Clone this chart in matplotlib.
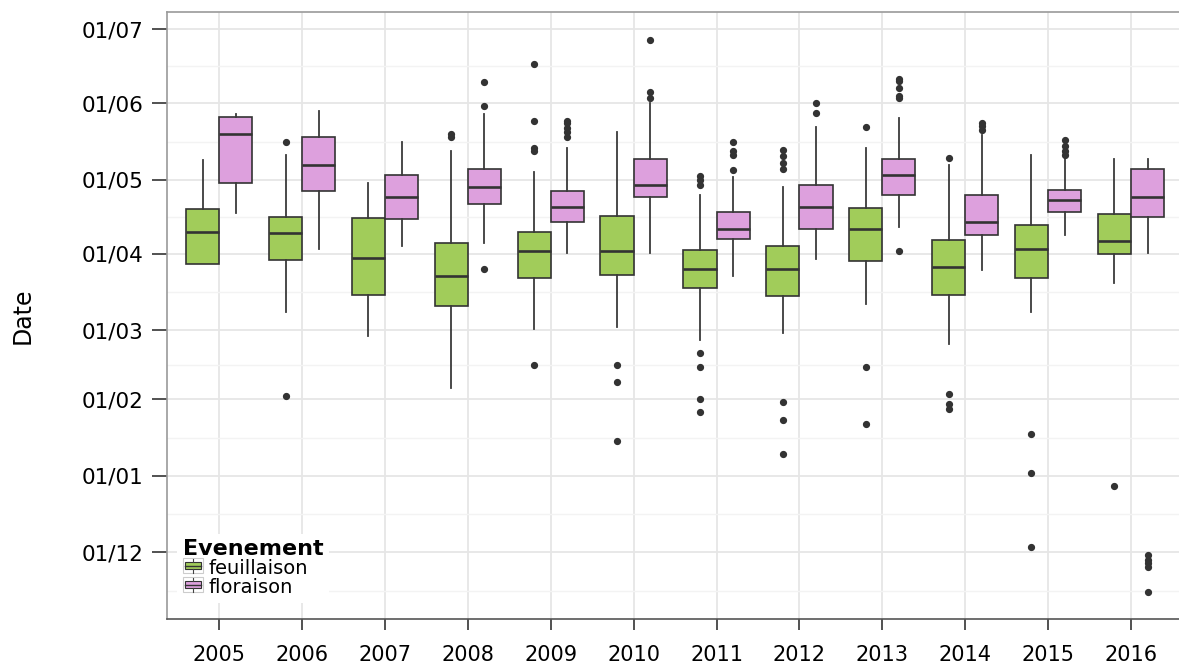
import numpy as np
import matplotlib
matplotlib.use('Agg')
import matplotlib.pyplot as plt
from matplotlib.patches import Rectangle, Patch
from matplotlib.lines import Line2D
from matplotlib.legend_handler import HandlerBase

plt.rcParams['font.family'] = ['DejaVu Sans']

years = [2005, 2006, 2007, 2008, 2009, 2010, 2011, 2012, 2013, 2014, 2015, 2016]

# dates as days from 1 January (negative = previous December)
tick_days = [-31, 0, 31, 59, 90, 120, 151, 181]
tick_labels = ['01/12', '01/01', '01/02', '01/03', '01/04', '01/05', '01/06', '01/07']

# feuillaison
feuil_hi = [128, 130, 118.5, 131.5, 123, 139.5, 114, 117, 133, 126, 130, 128.5]
feuil_q3 = [108, 105, 104.5, 94.5, 99, 105.5, 91.5, 93, 108.5, 95.5, 101.5, 106]
feuil_med = [99, 98.5, 88.5, 81, 91, 91, 84, 84, 100, 84.5, 92, 95]
feuil_q1 = [86, 87.5, 73.5, 69, 80, 81.5, 76, 73, 87, 73.5, 80, 90]
feuil_lo = [86, 66.5, 56.5, 35.5, 59.5, 60.5, 55, 58, 69.5, 53.5, 66.5, 78]
feuil_out = [[], [135.5, 32.5], [], [138.5, 137.5],
             [167, 144, 133, 131.5, 45], [45, 38, 14],
             [121.5, 120, 118, 50, 44, 31, 26],
             [132, 129.5, 127, 124.5, 30, 22.5, 9],
             [141.5, 44, 21], [129, 33, 29, 27], [17, 1, -29], [-4]]

# floraison
flor_hi = [146.5, 148, 135.5, 146.5, 133, 151, 121, 141.5, 145, 138, 129, 128.5]
flor_q3 = [145.5, 137.5, 122, 124.5, 115.5, 128.5, 107, 118, 128.5, 114, 116, 124.5]
flor_med = [138.5, 126, 113, 117, 109, 118, 100, 109, 122, 103, 112, 113]
flor_q1 = [118.5, 115.5, 104, 110, 103, 113, 96, 100, 114, 97.5, 107, 105]
flor_lo = [106.5, 92, 93, 94.5, 90.5, 90.5, 81, 88, 101, 83.5, 97.5, 90.5]
flor_out = [[], [], [], [159.5, 150, 84],
            [144, 143, 141, 139.5, 137.5], [176.5, 155.5, 153],
            [135.5, 131.5, 130, 124], [151, 147],
            [161, 160, 157, 154, 153, 91], [143, 142, 140],
            [136, 133.5, 131.5, 130], [-32, -34, -35.5, -37, -47]]

col_feuil = '#A1CC5A'
col_flor = '#DDA0DD'
dark = '#333333'


def make_stats(lo, q1, med, q3, hi, out):
    return [dict(whislo=lo[i], q1=q1[i], med=med[i], q3=q3[i], whishi=hi[i],
                 fliers=np.array(out[i])) for i in range(len(med))]


fig = plt.figure(figsize=(11.79, 6.66), dpi=100)
ax = fig.add_axes([167 / 1179, 47 / 666, 1012 / 1179, 607 / 666])

x = np.arange(len(years))
common = dict(widths=0.4, patch_artist=True, showcaps=False,
              medianprops=dict(color=dark, linewidth=1.9),
              whiskerprops=dict(color='#3A3A3A', linewidth=1.3),
              flierprops=dict(marker='o', markersize=4.2, markerfacecolor=dark,
                              markeredgecolor=dark, linestyle='none'))

ax.bxp(make_stats(feuil_lo, feuil_q1, feuil_med, feuil_q3, feuil_hi, feuil_out),
       positions=x - 0.2, boxprops=dict(facecolor=col_feuil, edgecolor=dark, linewidth=1.2),
       **common)
ax.bxp(make_stats(flor_lo, flor_q1, flor_med, flor_q3, flor_hi, flor_out),
       positions=x + 0.2, boxprops=dict(facecolor=col_flor, edgecolor=dark, linewidth=1.2),
       **common)

ax.set_xlim(-0.63, 11.58)
ax.set_ylim(-58, 188)

ax.set_xticks(x)
ax.set_xticklabels([str(y) for y in years])
ax.set_yticks(tick_days)
ax.set_yticklabels(tick_labels)
minor = [(a + b) / 2 for a, b in zip(tick_days[:-1], tick_days[1:])]
minor.append(tick_days[0] - (tick_days[1] - tick_days[0]) / 2)
ax.set_yticks(minor, minor=True)

ax.grid(True, which='major', color='#E6E6E6', linewidth=1.3)
ax.grid(True, which='minor', axis='y', color='#F3F3F3', linewidth=1.0)
ax.set_axisbelow(True)

ax.tick_params(axis='y', which='major', length=11, width=1.2, color=dark,
               labelsize=15.5, pad=6, labelcolor='black')
ax.tick_params(axis='x', which='major', length=8, width=1.2, color=dark,
               labelsize=15, pad=11, labelcolor='black')
ax.tick_params(which='minor', length=0)

for s in ['left', 'top']:
    ax.spines[s].set_color('#9A9A9A')
    ax.spines[s].set_linewidth(1.2)
ax.spines['bottom'].set_color('#555555')
ax.spines['bottom'].set_linewidth(1.2)
ax.spines['right'].set_visible(False)

ax.set_ylabel('Date', fontsize=17)
ax.yaxis.set_label_coords(-0.131, 0.5)


class BoxKey(HandlerBase):
    def create_artists(self, legend, orig, xd, yd, w, h, fontsize, trans):
        fc = orig.get_facecolor()
        frame = Rectangle((xd, yd), w, h, facecolor='white', edgecolor='#CCCCCC',
                          linewidth=0.8, transform=trans)
        box = Rectangle((xd + 0.1 * w, yd + 0.25 * h), 0.8 * w, 0.5 * h,
                        facecolor=fc, edgecolor=dark, linewidth=0.8, transform=trans)
        med = Line2D([xd + 0.1 * w, xd + 0.9 * w], [yd + 0.5 * h] * 2,
                     color=dark, linewidth=1.0, transform=trans)
        w1 = Line2D([xd + 0.5 * w] * 2, [yd + 0.05 * h, yd + 0.25 * h],
                    color='#444444', linewidth=0.8, transform=trans)
        w2 = Line2D([xd + 0.5 * w] * 2, [yd + 0.75 * h, yd + 0.95 * h],
                    color='#444444', linewidth=0.8, transform=trans)
        return [frame, box, med, w1, w2]


handles = [Patch(facecolor=col_feuil), Patch(facecolor=col_flor)]
leg = ax.legend(handles, ['feuillaison', 'floraison'], title='Evenement',
                loc='lower left', bbox_to_anchor=(0.0, 0.01),
                handler_map={Patch: BoxKey()}, handlelength=1.05, handleheight=0.85,
                handletextpad=0.3, labelspacing=0.0, borderpad=0.3,
                fontsize=14, title_fontproperties={'size': 16, 'weight': 'bold'},
                alignment='left', frameon=True, fancybox=False, framealpha=1)
leg.get_frame().set_edgecolor('none')
leg.get_frame().set_facecolor('white')

fig.savefig('out.png', dpi=100, facecolor='white')
